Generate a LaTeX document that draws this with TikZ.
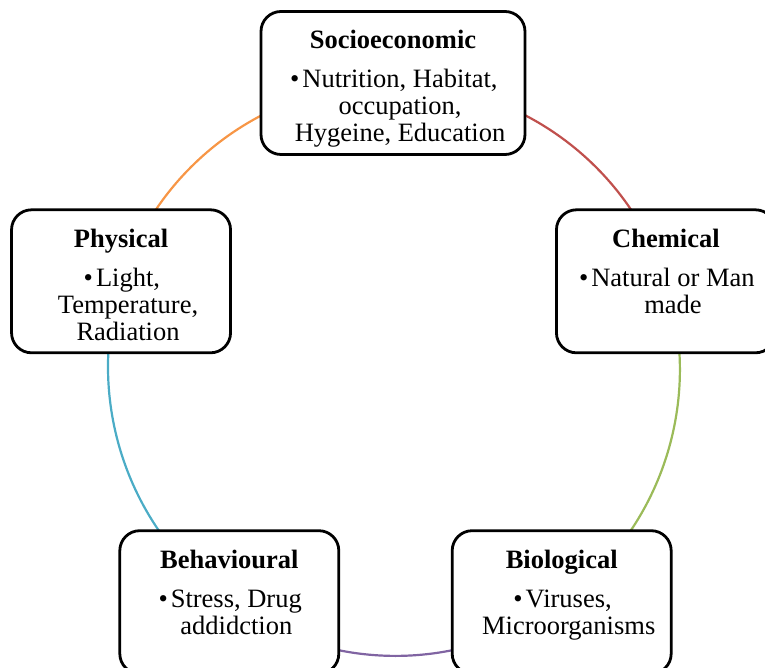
\documentclass[tikz,border=0pt]{standalone}
\usepackage{fontspec}
\setmainfont{Liberation Serif}
\usetikzlibrary{backgrounds}

\definecolor{arcred}{HTML}{C0504D}
\definecolor{arcgreen}{HTML}{9BBB59}
\definecolor{arcpurple}{HTML}{8064A2}
\definecolor{arcblue}{HTML}{4BACC6}
\definecolor{arcorange}{HTML}{F79646}

\newcommand{\factortext}[3]{\parbox[c][143pt][t]{#1}{\vspace*{19pt}\centering
  \textbf{#2}\par\vspace{12pt}
  \leftskip=14pt plus 1fil \rightskip=0pt plus 1fil \parfillskip=0pt
  \leavevmode\llap{\textbullet\hspace{3pt}}#3\par}}

\begin{document}
\begin{tikzpicture}[x=1pt,y=1pt]
		\tikzstyle{factor}=[draw=black, line width=2.8pt, rounded corners=20pt, fill=white, inner sep=0pt, font=\fontsize{26.5}{27}\selectfont]
		\tikzstyle{ring}=[line width=2.2pt, bend left=36, looseness=0.94]
		\useasboundingbox (-393,-298) rectangle (372,370);
		\node [factor] (socio) at (90:287) {\factortext{264pt}{Socioeconomic}{Nutrition, Habitat,\\ occupation,\\ Hygeine, Education}};
		\node [factor] (chem) at (18:287) {\factortext{219pt}{Chemical}{Natural or Man\\ made}};
		\node [factor] (bio) at (-54:287) {\factortext{219pt}{Biological}{Viruses,\\ Microorganisms}};
		\node [factor] (behav) at ([xshift=5pt]234:287) {\factortext{219pt}{Behavioural}{Stress, Drug\\ addidction}};
		\node [factor] (phys) at ([xshift=1pt]162:287) {\factortext{219pt}{Physical}{Light,\\ Temperature,\\ Radiation}};
		\begin{scope}[on background layer]
		\draw [ring, arcred] (socio.center) to (chem.center);
		\draw [ring, arcgreen] (chem.center) to (bio.center);
		\draw [ring, arcpurple] (bio.center) to (behav.center);
		\draw [ring, arcblue] (behav.center) to (phys.center);
		\draw [ring, arcorange] (phys.center) to (socio.center);
		\end{scope}
\end{tikzpicture}
\end{document}
